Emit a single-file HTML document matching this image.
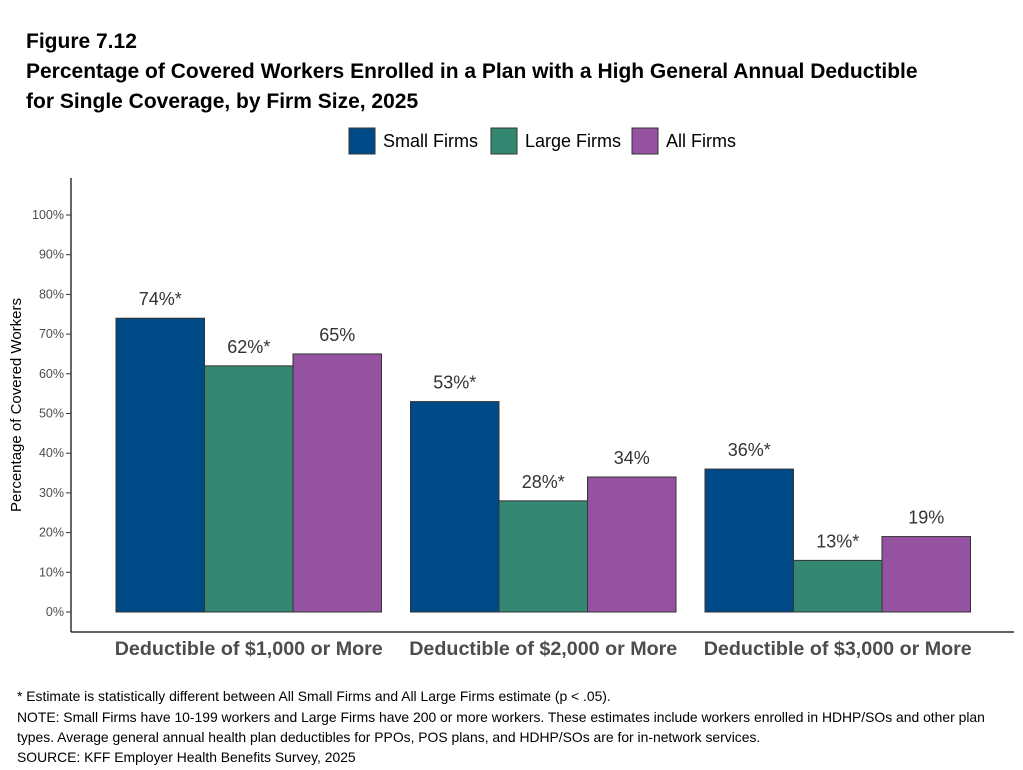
<!DOCTYPE html>
<html><head><meta charset="utf-8"><style>
body{margin:0;background:#fff;font-family:"Liberation Sans",Arial,sans-serif;}
#wrap{position:relative;width:1023px;height:770px;overflow:hidden;background:#fff}
.t{position:absolute;left:26px;font-weight:bold;font-size:21px;color:#000;white-space:nowrap}
.fn{position:absolute;left:17px;font-size:13.9px;color:#000;white-space:nowrap}
</style></head><body><div id="wrap">
<div class="t" style="top:30px">Figure 7.12</div>
<div class="t" style="top:60px">Percentage of Covered Workers Enrolled in a Plan with a High General Annual Deductible</div>
<div class="t" style="top:90px">for Single Coverage, by Firm Size, 2025</div>
<svg id="svg" width="1023" height="770" style="position:absolute;left:0;top:0"></svg>
<div class="fn" style="top:688px">* Estimate is statistically different between All Small Firms and All Large Firms estimate (p &lt; .05).</div>
<div class="fn" style="top:709px">NOTE: Small Firms have 10-199 workers and Large Firms have 200 or more workers. These estimates include workers enrolled in HDHP/SOs and other plan</div>
<div class="fn" style="top:729px">types. Average general annual health plan deductibles for PPOs, POS plans, and HDHP/SOs are for in-network services.</div>
<div class="fn" style="top:749px">SOURCE: KFF Employer Health Benefits Survey, 2025</div>
</div>
<script>
const categories=["Deductible of $1,000 or More","Deductible of $2,000 or More","Deductible of $3,000 or More"];
const seriesNames=["Small Firms","Large Firms","All Firms"];
const small=[74,53,36];
const large=[62,28,13];
const all=[65,34,19];
const smallLabels=["74%*","53%*","36%*"];
const largeLabels=["62%*","28%*","13%*"];
const allLabels=["65%","34%","19%"];
const ticks=[0,10,20,30,40,50,60,70,80,90,100];
const colors=["#004a87","#348872","#9552a0"];
const NS="http://www.w3.org/2000/svg";
const svg=document.getElementById('svg');
function y(v){return 612-v*3.97;}
function gx(i){return 116+i*294.5;}
const bw=88.5;
function mk(tag,attrs,txt){const e=document.createElementNS(NS,tag);for(const k in attrs)e.setAttribute(k,attrs[k]);if(txt!=null)e.textContent=txt;svg.appendChild(e);return e;}
let e=mk('line',{x1:71,y1:178,x2:71,y2:632,stroke:'#000','stroke-width':1.2});


e=mk('line',{x1:71,y1:632,x2:1014,y2:632,stroke:'#000','stroke-width':1.2});


ticks.forEach(t=>{
 let l=mk('line',{x1:66,y1:y(t),x2:71,y2:y(t),stroke:'#333'});
 
 
 let tx=mk('text',{x:64,y:y(t)+4,'text-anchor':'end','font-size':12.5,fill:'#4d4d4d','font-family':'Liberation Sans'},t+'%');
 
 
});
e=mk('text',{transform:'translate(21,405) rotate(-90)','text-anchor':'middle','font-size':15,fill:'#000','font-family':'Liberation Sans'},'Percentage of Covered Workers');


const data=[small,large,all],labs=[smallLabels,largeLabels,allLabels];
categories.forEach((c,i)=>{
 data.forEach((s,j)=>{
  const x=gx(i)+j*bw;
  let r=mk('rect',{x:x,y:y(s[i]),width:bw,height:612-y(s[i]),fill:colors[j],stroke:'#333','stroke-width':1});
  
  
  let t=mk('text',{x:x+bw/2,y:y(s[i])-13,'text-anchor':'middle','font-size':18,fill:'#333','font-family':'Liberation Sans'},labs[j][i]);
  
  
 });
 let t=mk('text',{x:gx(i)+bw*1.5,y:655,'text-anchor':'middle','font-size':19.7,'font-weight':'bold',fill:'#4d4d4d','font-family':'Liberation Sans'},c);
 
 
});
const lx=[349,491,632];
seriesNames.forEach((n,j)=>{
 let r=mk('rect',{x:lx[j],y:128,width:26,height:26,fill:colors[j],stroke:'#333'});
 
 
 let t=mk('text',{x:lx[j]+34,y:147,'font-size':18,fill:'#000','font-family':'Liberation Sans'},n);
 
 
});
</script></body></html>
